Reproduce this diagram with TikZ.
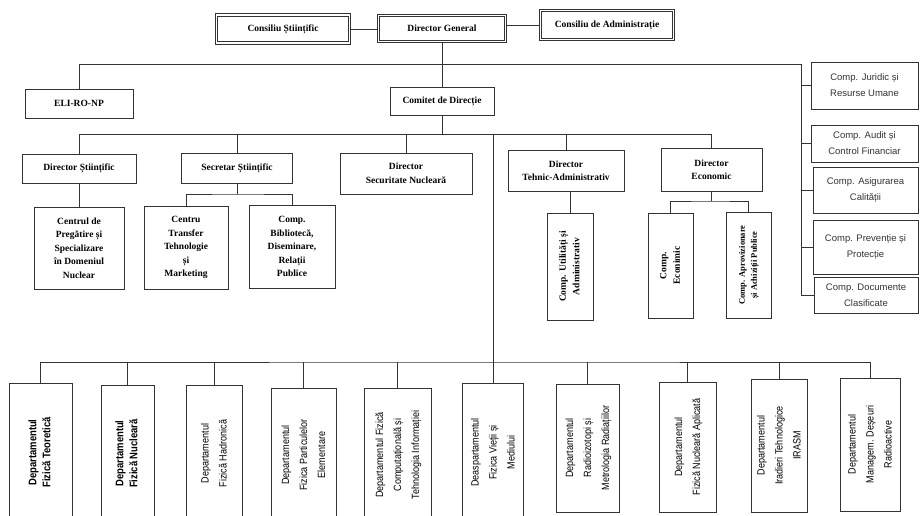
\documentclass[tikz,border=0pt]{standalone}
\usepackage{fontspec}
\usepackage{graphicx}
\setmainfont{Liberation Serif}
\newfontfamily\compfont{Liberation Sans}
\newfontfamily\deptfont[FakeStretch=0.86]{Liberation Sans}
\newcommand{\rotlabel}[1]{\rotatebox{90}{\begin{tabular}{@{}c@{}}#1\end{tabular}}}
\tikzstyle{box}=[draw=black!80,line width=0.8pt,fill=white,align=center,inner sep=2pt,font=\bfseries\fontsize{9.5}{13.5}\selectfont]
\tikzstyle{dbox}=[box,line width=1pt,double,double distance=1.6pt]
\tikzstyle{comp}=[draw=black!80,line width=0.8pt,fill=white,align=center,inner sep=2pt,text=black!80,font=\compfont\fontsize{9.5}{16}\selectfont]
\tikzstyle{dept}=[draw=black!80,line width=0.8pt,fill=white,inner sep=0pt,font=\deptfont\fontsize{10.5}{18}\selectfont]
\tikzstyle{deptb}=[dept,font=\deptfont\bfseries\fontsize{11}{14}\selectfont]
\tikzstyle{edge} = [draw=black!80,line width=0.8pt]

\begin{document}
\begin{tikzpicture}[x=1pt,y=-1pt]
  \useasboundingbox (0,0) rectangle (920,515);
  % conducere
  \node[dbox,minimum width=133pt,minimum height=28pt] (cs) at (283,29) {Consiliu Științific};
  \node[dbox,minimum width=127pt,minimum height=26pt] (dg) at (442,28.5) {Director General};
  \node[dbox,minimum width=133pt,minimum height=29pt] (ca) at (607,25) {Consiliu de Administrație};
  \node[box,minimum width=108pt,minimum height=29pt] (eli) at (79,103.5) {ELI-RO-NP};
  \node[box,minimum width=104pt,minimum height=28pt] (com) at (442,101) {Comitet de Direcție};
  % directori
  \node[box,minimum width=114pt,minimum height=29pt] (ds) at (79,168.5) {Director Științific};
  \node[box,minimum width=111pt,minimum height=30pt] (ss) at (237,168) {Secretar Științific};
  \node[box,minimum width=132pt,minimum height=41pt] (dsn) at (406,173.5) {Director\\Securitate Nucleară};
  \node[box,minimum width=116pt,minimum height=41pt] (dta) at (566,170.5) {Director\\Tehnic-Administrativ};
  \node[box,minimum width=101pt,minimum height=43pt] (de) at (711.5,169.5) {Director\\Economic};
  % compartimente
  \node[box,minimum width=90pt,minimum height=82pt] (cpr) at (79,248) {Centrul de\\Pregătire și\\Specializare\\în Domeniul\\Nuclear};
  \node[box,minimum width=84pt,minimum height=83pt] (ctt) at (186,247.5) {Centru\\Transfer\\Tehnologie\\și\\Marketing};
  \node[box,minimum width=86pt,minimum height=83pt] (cbib) at (292,246.5) {Comp.\\Bibliotecă,\\Diseminare,\\Relații\\Publice};
  \node[box,minimum width=46pt,minimum height=107pt] (cua) at (570,266.5) {\rotlabel{Comp. Utilități și\\Administrativ}};
  \node[box,minimum width=45pt,minimum height=105pt] (cec) at (670.5,265.5) {\rotlabel{Comp.\\Econimic}};
  \node[box,minimum width=45pt,minimum height=106pt,font=\bfseries\fontsize{8.5}{12}\selectfont] (cap) at (748.5,265) {\rotlabel{Comp. Aprovizionare\\și Achiziții Publice}};
  % coloana dreapta
  \node[comp,minimum width=107pt,minimum height=47pt] (jur) at (864.5,85.5) {Comp. Juridic și\\Resurse Umane};
  \node[comp,minimum width=107pt,minimum height=37pt] (aud) at (864.5,143.5) {Comp. Audit și\\Control Financiar};
  \node[comp,minimum width=105pt,minimum height=46pt] (asi) at (865.5,190) {Comp. Asigurarea\\Calității};
  \node[comp,minimum width=105pt,minimum height=54pt] (pre) at (865.5,247) {Comp. Prevenție și\\Protecție};
  \node[comp,minimum width=104pt,minimum height=36pt] (doc) at (866,295) {Comp. Documente\\Clasificate};
  % departamente
  \node[deptb,minimum width=63pt,minimum height=139pt] (dft) at (40.5,452.5) {\rotlabel{Departamentul\\Fizică Teoretică}};
  \node[deptb,minimum width=53pt,minimum height=137pt] (dfn) at (127.5,453.5) {\rotlabel{Departamentul\\Fizică Nucleară}};
  \node[dept,minimum width=56pt,minimum height=137pt] (dfh) at (214,453.5) {\rotlabel{Departamentul\\Fizică Hadronică}};
  \node[dept,minimum width=65pt,minimum height=134pt] (dfp) at (303.5,455) {\rotlabel{Departamentul\\Fizica Particulelor\\Elementare}};
  \node[dept,minimum width=67pt,minimum height=134pt] (dfc) at (397.5,455) {\rotlabel{Departamentul Fizică\\Computațională și\\Tehnologia Informației}};
  \node[dept,minimum width=61pt,minimum height=139pt] (dfv) at (493,452.5) {\rotlabel{Deaspartamentul\\Fizica Vieții și\\Mediului}};
  \node[dept,minimum width=63pt,minimum height=128pt] (drm) at (587.5,448) {\rotlabel{Departamentul\\Radioizotopi și\\Metrologia Radiațiilor}};
  \node[dept,minimum width=57pt,minimum height=130pt] (dfa) at (687.5,447) {\rotlabel{Departamentul\\Fizică Nucleară Aplicată}};
  \node[dept,minimum width=56pt,minimum height=133pt] (dit) at (779,445.5) {\rotlabel{Departamentul\\Iradieri Tehnologice\\IRASM}};
  \node[dept,minimum width=60pt,minimum height=133pt] (dmd) at (870,444.5) {\rotlabel{Departamentul\\Managem. Deșeuri\\Radioactive}};
  % puncte de ramificare
  \coordinate (rc) at (801,64);
  \coordinate (mb) at (442,134);
  \coordinate (lb) at (493,134);
  \coordinate (bb) at (493,362);
  \coordinate (sb) at (237,194);
  \coordinate (eb) at (711.5,201);
  % legaturi
  \draw[edge] (cs.east) -- (cs.east -| dg.west);
  \draw[edge] (ca.west) -- (ca.west -| dg.east);
  \draw[edge] (dg) -- (com);
  \draw[edge] (eli.north) |- (rc) -- (rc |- doc.west) -- (doc.west);
  \draw[edge] (rc |- jur.west) -- (jur.west);
  \draw[edge] (rc |- aud.west) -- (aud.west);
  \draw[edge] (rc |- asi.west) -- (asi.west);
  \draw[edge] (rc |- pre.west) -- (pre.west);
  \draw[edge] (com) -- (mb);
  \draw[edge] (ds.north) |- (de.north |- mb) -- (de.north);
  \draw[edge] (ss.north) -- (ss.north |- mb);
  \draw[edge] (dsn.north) -- (dsn.north |- mb);
  \draw[edge] (dta.north) -- (dta.north |- mb);
  \draw[edge] (lb) -- (bb);
  \draw[edge] (ds) -- (cpr);
  \draw[edge] (ss.south) -- (sb);
  \draw[edge] (ctt.north) |- (sb) -| (cbib.north);
  \draw[edge] (cua.north) -- (cua.north |- dta.south);
  \draw[edge] (de.south) -- (eb);
  \draw[edge] (cec.north) |- (eb) -| (cap.north);
  \draw[edge] (dft.north) |- (bb) -| (dmd.north);
  \draw[edge] (dfn.north) -- (dfn.north |- bb);
  \draw[edge] (dfh.north) -- (dfh.north |- bb);
  \draw[edge] (dfp.north) -- (dfp.north |- bb);
  \draw[edge] (dfc.north) -- (dfc.north |- bb);
  \draw[edge] (dfv.north) -- (bb);
  \draw[edge] (drm.north) -- (drm.north |- bb);
  \draw[edge] (dfa.north) -- (dfa.north |- bb);
  \draw[edge] (dit.north) -- (dit.north |- bb);
\end{tikzpicture}
\end{document}
